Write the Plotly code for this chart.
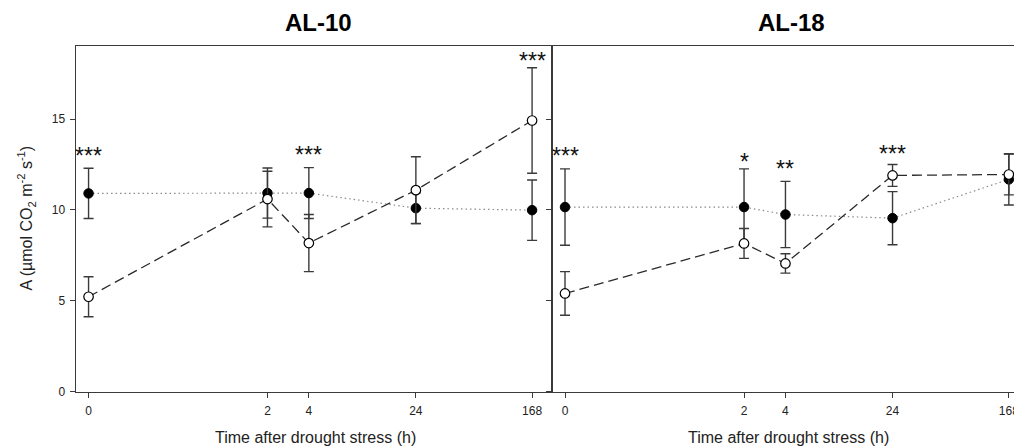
import math
import plotly.graph_objects as go

# ---------------- data ----------------
time_h = [0, 2, 4, 24, 168]
time_labels = ["0", "2", "4", "24", "168"]

al10_control = [10.91, 10.93, 10.93, 10.10, 9.99]
al10_control_err = [1.38, 1.38, 1.40, 0.84, 1.66]
al10_drought = [5.23, 10.60, 8.18, 11.09, 14.92]
al10_drought_err = [1.10, 1.53, 1.57, 1.84, 2.90]
al10_sig = ["***", "", "***", "", "***"]
al10_sig_y = [13.26, None, 13.29, None, 18.48]

al18_control = [10.16, 10.16, 9.75, 9.55, 11.68]
al18_control_err = [2.10, 2.10, 1.82, 1.46, 1.41]
al18_drought = [5.41, 8.16, 7.06, 11.90, 11.95]
al18_drought_err = [1.20, 0.82, 0.53, 0.60, 1.12]
al18_sig = ["***", "*", "**", "***", ""]
al18_sig_y = [13.22, 12.93, 12.52, 13.35, None]

y_ticks = [0, 5, 10, 15]

# ---------------- axis / style configuration ----------------
LOG_ZERO = 0.1  # time 0 is placed at 0.1 on the log time axis
x_plot = [t if t > 0 else LOG_ZERO for t in time_h]

PAGE_MARGIN = 8            # default body margin of the html page
V_SCALE = 448 / 456        # vertical scale observed in the photograph
W, H = 1022 - PAGE_MARGIN, 448
FONT = "Liberation Sans, Arial, sans-serif"
AXIS_COLOR = "#3a3a3a"
ERR_COLOR = "#3a3a3a"


def px_x(v):
    return (v - PAGE_MARGIN) / W


def px_y(v):
    return 1 - (v / V_SCALE - PAGE_MARGIN) / H


left_dom = [px_x(75.5), px_x(551.7)]
right_dom = [px_x(551.7), 1.0]
y_dom = [px_y(391), px_y(45.5)]

fig = go.Figure()


def add_panel(xa, ya, ctrl, ctrl_err, drt, drt_err):
    fig.add_trace(go.Scatter(
        x=x_plot, y=ctrl, xaxis=xa, yaxis=ya, mode="lines+markers",
        line=dict(color="#8a8a8a", width=1.2, dash="1.5px,3px"),
        marker=dict(symbol="circle", size=9.5, color="black",
                    line=dict(color="black", width=1)),
        error_y=dict(type="data", array=ctrl_err, visible=True,
                     color=ERR_COLOR, thickness=1.4, width=5),
        showlegend=False, hoverinfo="skip"))
    fig.add_trace(go.Scatter(
        x=x_plot, y=drt, xaxis=xa, yaxis=ya, mode="lines+markers",
        line=dict(color="#2a2a2a", width=1.3, dash="10px,5px"),
        marker=dict(symbol="circle", size=9.5, color="white",
                    line=dict(color="black", width=1.2)),
        error_y=dict(type="data", array=drt_err, visible=True,
                     color=ERR_COLOR, thickness=1.4, width=5),
        showlegend=False, hoverinfo="skip"))


add_panel("x", "y", al10_control, al10_control_err, al10_drought, al10_drought_err)
add_panel("x2", "y2", al18_control, al18_control_err, al18_drought, al18_drought_err)

annotations = []
for xa, ya, sig, sig_y in (("x", "y", al10_sig, al10_sig_y), ("x2", "y2", al18_sig, al18_sig_y)):
    for xv, s, yv in zip(x_plot, sig, sig_y):
        if s:
            annotations.append(dict(
                x=math.log10(xv), y=yv, xref=xa, yref=ya, text=s, showarrow=False,
                xanchor="center", yanchor="middle", yshift=-5,
                font=dict(family=FONT, size=23, color="#111")))

# panel titles and x-axis titles
for cx, title in ((318.0, "AL-10"), (791.0, "AL-18")):
    annotations.append(dict(
        x=px_x(cx), y=px_y(22), xref="paper", yref="paper",
        text="<b>" + title + "</b>", showarrow=False,
        xanchor="center", yanchor="middle",
        font=dict(family=FONT, size=24, color="black")))
    annotations.append(dict(
        x=px_x(cx - 2.5), y=px_y(437), xref="paper", yref="paper",
        text="Time after drought stress (h)", showarrow=False,
        xanchor="center", yanchor="middle",
        font=dict(family=FONT, size=16, color="#222")))

annotations.append(dict(
    x=px_x(26), y=px_y(218), xref="paper", yref="paper",
    text="A (\u00b5mol CO<sub>2</sub> m<sup>-2</sup> s<sup>-1</sup>)",
    showarrow=False, textangle=-90, xanchor="center", yanchor="middle",
    font=dict(family=FONT, size=16, color="#222")))

xaxis_common = dict(
    type="log", tickvals=x_plot, ticktext=time_labels,
    showline=True, linecolor=AXIS_COLOR, linewidth=1, mirror=True,
    ticks="outside", ticklen=5, tickwidth=1, tickcolor=AXIS_COLOR,
    ticklabelstandoff=3,
    showgrid=False, zeroline=False,
    tickfont=dict(family=FONT, size=12, color="#222"),
    fixedrange=True)
yaxis_common = dict(
    range=[0, 19.03], tickvals=y_ticks,
    showline=True, linecolor=AXIS_COLOR, linewidth=1,
    ticks="outside", ticklen=5, tickwidth=1, tickcolor=AXIS_COLOR,
    ticklabelstandoff=2,
    showgrid=False, zeroline=False,
    tickfont=dict(family=FONT, size=12, color="#222"),
    fixedrange=True)

fig.update_layout(
    width=W, height=H,
    margin=dict(l=0, r=0, t=0, b=0),
    paper_bgcolor="white", plot_bgcolor="white",
    xaxis=dict(domain=left_dom, range=[-1.095, 2.368], anchor="y", **xaxis_common),
    xaxis2=dict(domain=right_dom, range=[-1.0967, 2.321], anchor="y2", **xaxis_common),
    yaxis=dict(domain=y_dom, anchor="x", mirror=True, **yaxis_common),
    yaxis2=dict(domain=y_dom, anchor="x2", showticklabels=False, **yaxis_common),
    annotations=annotations,
)

fig.write_html("out.html")
